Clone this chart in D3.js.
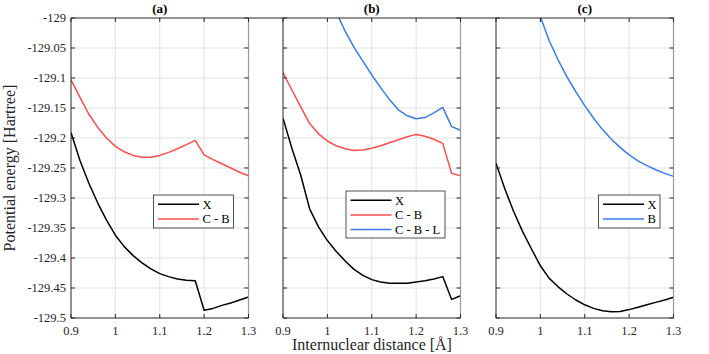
<!DOCTYPE html>
<html>
<head>
<meta charset="utf-8">
<title>Potential energy curves</title>
<style>
  body { margin: 0; background: #fff; }
  svg { display: block; }
  text { font-family: 'Liberation Serif', 'Times New Roman', serif; }
</style>
</head>
<body>
<div id="container"></div>
<script src="https://cdn.jsdelivr.net/npm/d3@7/dist/d3.min.js"></script>
<script>
// internuclear distance (Å)
var dist = [0.90, 0.92, 0.94, 0.96, 0.98, 1.00, 1.02, 1.04, 1.06, 1.08, 1.10,
            1.12, 1.14, 1.16, 1.18, 1.20, 1.22, 1.24, 1.26, 1.28, 1.30];

var xTicks = [0.9, 1, 1.1, 1.2, 1.3];
var yTicks = [-129, -129.05, -129.1, -129.15, -129.2, -129.25, -129.3, -129.35, -129.4, -129.45, -129.5];
var titles = ['(a)', '(b)', '(c)'];

// panel (a)
var aX  = [-129.191, -129.237, -129.275, -129.308, -129.337, -129.362, -129.381, -129.396, -129.408, -129.418, -129.426,
           -129.431, -129.435, -129.437, -129.438, -129.487, -129.484, -129.479, -129.475, -129.470, -129.465];
var aCB = [-129.103, -129.132, -129.160, -129.182, -129.200, -129.214, -129.223, -129.229, -129.232, -129.232, -129.229,
           -129.224, -129.218, -129.211, -129.204, -129.228, -129.236, -129.243, -129.250, -129.257, -129.263];

// panel (b)
var bX   = [-129.167, -129.217, -129.262, -129.318, -129.348, -129.371, -129.389, -129.405, -129.419, -129.429, -129.436,
            -129.440, -129.442, -129.442, -129.442, -129.440, -129.438, -129.435, -129.431, -129.469, -129.463];
var bCB  = [-129.091, -129.120, -129.148, -129.176, -129.193, -129.205, -129.213, -129.218, -129.221, -129.220, -129.217,
            -129.213, -129.208, -129.203, -129.198, -129.194, -129.197, -129.202, -129.209, -129.259, -129.263];
var bCBL = [null, null, null, null, -128.930, -128.960, -128.990, -129.022, -129.049, -129.072, -129.095,
            -129.116, -129.136, -129.153, -129.163, -129.168, -129.166, -129.158, -129.149, -129.181, -129.187];

// panel (c)
var cX = [-129.242, -129.285, -129.323, -129.356, -129.385, -129.413, -129.434, -129.448, -129.460, -129.470, -129.478,
          -129.484, -129.488, -129.4895, -129.489, -129.486, -129.482, -129.478, -129.474, -129.470, -129.4655];
var cB = [null, null, null, null, -128.948, -128.998, -129.038, -129.070, -129.098, -129.123, -129.146,
          -129.167, -129.186, -129.202, -129.216, -129.228, -129.238, -129.246, -129.253, -129.259, -129.264];

var black = '#000000', red = '#ff4d4d', blue = '#3b7bea';
var axisCol = '#262626', gridCol = '#e2e2e2', edgeCol = '#9a9a9a';

var panels = [
  { title: titles[0], left: 71,  series: [{ name: 'X', v: aX, c: black }, { name: 'C - B', v: aCB, c: red }],
    legend: { x: 153.5, y: 195, w: 80, h: 33 } },
  { title: titles[1], left: 283, series: [{ name: 'X', v: bX, c: black }, { name: 'C - B', v: bCB, c: red }, { name: 'C - B - L', v: bCBL, c: blue }],
    legend: { x: 346, y: 191, w: 99, h: 47 } },
  { title: titles[2], left: 496, series: [{ name: 'X', v: cX, c: black }, { name: 'B', v: cB, c: blue }],
    legend: { x: 598.5, y: 195, w: 61.5, h: 33 } }
];

var width = 709, height = 354;
var yTop = 18, yBottom = 318, panelW = 177.5, tick = 4;

var svg = d3.select('#container').append('svg')
  .attr('width', width).attr('height', height);

var y = d3.scaleLinear().domain([-129.5, -129]).range([yBottom, yTop]);

panels.forEach(function (p, pi) {
  var x = d3.scaleLinear().domain([0.9, 1.3]).range([p.left, p.left + panelW]);
  var g = svg.append('g');

  g.append('clipPath').attr('id', 'clip' + pi)
    .append('rect').attr('x', p.left).attr('y', yTop).attr('width', panelW).attr('height', yBottom - yTop);

  // grid
  g.selectAll('line.gx').data(xTicks.slice(1, -1)).enter().append('line')
    .attr('x1', function (d) { return x(d); }).attr('x2', function (d) { return x(d); })
    .attr('y1', yTop).attr('y2', yBottom)
    .attr('stroke', gridCol).attr('stroke-width', 1);
  g.selectAll('line.gy').data(yTicks.slice(1, -1)).enter().append('line')
    .attr('x1', p.left).attr('x2', p.left + panelW)
    .attr('y1', function (d) { return y(d); }).attr('y2', function (d) { return y(d); })
    .attr('stroke', gridCol).attr('stroke-width', 1);

  // curves
  var line = d3.line()
    .defined(function (d) { return d != null; })
    .x(function (d, i) { return x(dist[i]); })
    .y(function (d) { return y(d); });
  g.append('g').attr('clip-path', 'url(#clip' + pi + ')')
    .selectAll('path').data(p.series).enter().append('path')
    .attr('d', function (s) { return line(s.v); })
    .attr('fill', 'none').attr('stroke', function (s) { return s.c; })
    .attr('stroke-width', 1.5).attr('stroke-linejoin', 'round');

  // frame
  g.append('line').attr('x1', p.left + panelW).attr('x2', p.left + panelW).attr('y1', yTop).attr('y2', yBottom)
    .attr('stroke', edgeCol).attr('stroke-width', 1.2);
  g.append('line').attr('x1', p.left).attr('x2', p.left).attr('y1', yTop).attr('y2', yBottom)
    .attr('stroke', axisCol).attr('stroke-width', 1);
  g.append('line').attr('x1', p.left).attr('x2', p.left + panelW).attr('y1', yBottom).attr('y2', yBottom)
    .attr('stroke', axisCol).attr('stroke-width', 1);

  // ticks
  yTicks.forEach(function (d) {
    g.append('line').attr('x1', p.left).attr('x2', p.left + tick).attr('y1', y(d)).attr('y2', y(d))
      .attr('stroke', axisCol).attr('stroke-width', 1);
    g.append('line').attr('x1', p.left + panelW - tick).attr('x2', p.left + panelW).attr('y1', y(d)).attr('y2', y(d))
      .attr('stroke', axisCol).attr('stroke-width', 1);
  });
  xTicks.forEach(function (d) {
    g.append('line').attr('x1', x(d)).attr('x2', x(d)).attr('y1', yBottom).attr('y2', yBottom - tick)
      .attr('stroke', axisCol).attr('stroke-width', 1);
    g.append('line').attr('x1', x(d)).attr('x2', x(d)).attr('y1', yTop).attr('y2', yTop + tick)
      .attr('stroke', axisCol).attr('stroke-width', 1);
  });

  // x tick labels
  g.selectAll('text.xt').data(xTicks).enter().append('text')
    .attr('x', function (d) { return x(d); }).attr('y', 334.5)
    .attr('text-anchor', 'middle').attr('font-size', 12.5).attr('fill', axisCol)
    .text(function (d) { return String(d); });

  // y tick labels only on first panel
  if (pi === 0) {
    g.selectAll('text.yt').data(yTicks).enter().append('text')
      .attr('x', p.left - 5).attr('y', function (d) { return y(d) + 4.3; })
      .attr('text-anchor', 'end').attr('font-size', 12.5).attr('fill', axisCol)
      .text(function (d) { return String(d); });
  }

  // title
  g.append('text').attr('x', p.left + panelW / 2).attr('y', 12.5)
    .attr('text-anchor', 'middle').attr('font-size', 13).attr('font-weight', 'bold')
    .text(p.title);

  // legend
  var L = p.legend;
  g.append('rect').attr('x', L.x).attr('y', L.y).attr('width', L.w).attr('height', L.h)
    .attr('fill', '#fff').attr('stroke', axisCol).attr('stroke-width', 0.8);
  p.series.forEach(function (s, si) {
    var ly = L.y + 9.3 + si * 14.6;
    g.append('line').attr('x1', L.x + 4.5).attr('x2', L.x + 45.5).attr('y1', ly).attr('y2', ly)
      .attr('stroke', s.c).attr('stroke-width', 1.5);
    g.append('text').attr('x', L.x + 49).attr('y', ly + 4.3)
      .attr('font-size', 12.5).attr('fill', '#000').text(s.name);
  });
});

// top line across all panels
svg.append('line').attr('x1', panels[0].left).attr('x2', panels[2].left + panelW)
  .attr('y1', yTop).attr('y2', yTop).attr('stroke', axisCol).attr('stroke-width', 1);

// axis labels
svg.append('text').attr('x', 372).attr('y', 350).attr('text-anchor', 'middle')
  .attr('font-size', 16).attr('fill', axisCol).text('Internuclear distance [Å]');
svg.append('text').attr('transform', 'translate(14.5,168) rotate(-90)').attr('text-anchor', 'middle')
  .attr('font-size', 16).attr('fill', axisCol).text('Potential energy [Hartree]');
</script>
</body>
</html>
